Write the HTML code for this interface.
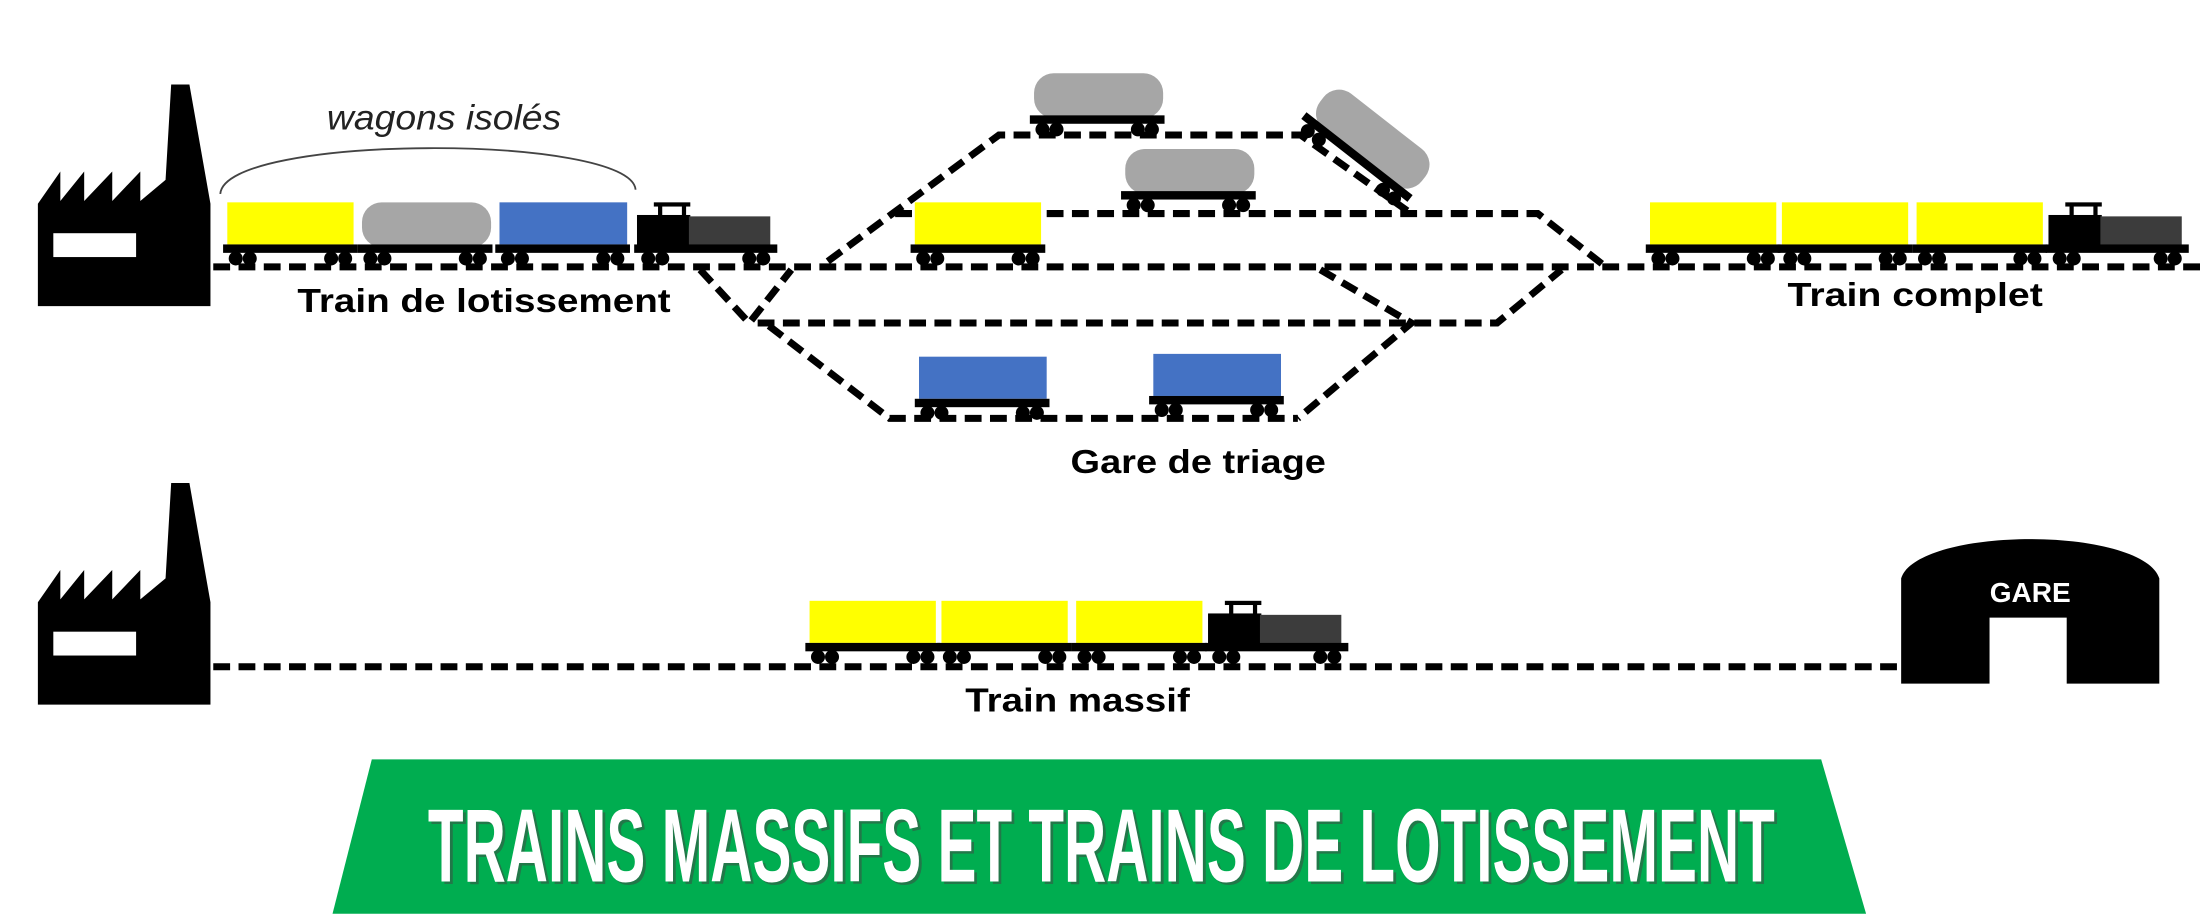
<!DOCTYPE html>
<html><head><meta charset="utf-8"><style>
html,body{margin:0;padding:0;background:#fff;}
svg{display:block;}
</style></head><body>
<svg width="2200" height="914" viewBox="0 0 1568 651" xmlns="http://www.w3.org/2000/svg">
<defs>
<g id="wh">
 <rect x="-3" y="30" width="96" height="6" fill="#000"/>
 <circle cx="6" cy="40" r="5" fill="#000"/><circle cx="16" cy="40" r="5" fill="#000"/>
 <circle cx="74" cy="40" r="5" fill="#000"/><circle cx="84" cy="40" r="5" fill="#000"/>
</g>
<g id="yel"><rect x="0" y="0" width="90" height="30" fill="#ffff00"/><use href="#wh"/></g>
<g id="blu"><rect x="0" y="0" width="91" height="30" fill="#4472c4"/><use href="#wh"/></g>
<g id="gry"><rect x="0" y="0" width="92" height="32" rx="14" fill="#a6a6a6"/><use href="#wh"/></g>
<g id="loco">
 <rect x="12" y="0" width="26" height="3" fill="#000"/>
 <rect x="15" y="2" width="3" height="8" fill="#000"/><rect x="32" y="2" width="3" height="8" fill="#000"/>
 <rect x="0" y="9" width="38" height="23" fill="#000"/>
 <rect x="37" y="10" width="58" height="21" fill="#3c3c3c"/>
 <rect x="-2" y="30" width="102" height="6" fill="#000"/>
 <circle cx="8" cy="40" r="5" fill="#000"/><circle cx="18" cy="40" r="5" fill="#000"/>
 <circle cx="80" cy="40" r="5" fill="#000"/><circle cx="90" cy="40" r="5" fill="#000"/>
</g>
<g id="fact">
 <path d="M27,145 L43,122 L43,143 L60,122 L60,143 L80,122 L80,143 L100,122 L100,143 L118,128 L122,60 L135,60 L150,145 L150,218 L27,218 Z" fill="#000"/>
 <rect x="38" y="166" width="59" height="17" fill="#fff"/>
</g>
</defs>

<g fill="none" stroke="#000" stroke-width="5" stroke-dasharray="12,6">
 <line x1="152" y1="190" x2="1568" y2="190"/>
 <polyline points="590,186 712,96 927,96 1003,150"/>
 <polyline points="638,152 1096,152 1142,188"/>
 <polyline points="499,192 534,230 564,192"/>
 <polyline points="540,230 1067,230 1113,192"/>
 <polyline points="941,192 1006,230 925,298"/>
 <polyline points="548,232 634,298 925,298"/>
 <line x1="152" y1="475" x2="1354" y2="475"/>
</g>

<use href="#fact"/>
<use href="#fact" transform="translate(0,284)"/>

<!-- top train -->
<path d="M157,138 C160,95 450,95 453,135" fill="none" stroke="#444" stroke-width="1.3"/>
<text x="233" y="92" textLength="167" lengthAdjust="spacingAndGlyphs" font-family="Liberation Sans, sans-serif" font-style="italic" font-size="25" fill="#222">wagons isolés</text>
<use href="#yel" transform="translate(162,144)"/>
<use href="#gry" transform="translate(258,144)"/>
<use href="#blu" transform="translate(356,144)"/>
<use href="#loco" transform="translate(454,144)"/>
<text x="212" y="222" textLength="266" lengthAdjust="spacingAndGlyphs" font-family="Liberation Sans, sans-serif" font-weight="bold" font-size="24">Train de lotissement</text>

<!-- yard -->
<use href="#gry" transform="translate(737,52)"/>
<use href="#gry" transform="translate(802,106)"/>
<use href="#gry" transform="translate(952,58) rotate(38)"/>
<use href="#yel" transform="translate(652,144)"/>
<use href="#blu" transform="translate(655,254)"/>
<use href="#blu" transform="translate(822,252)"/>
<text x="763" y="337" textLength="182" lengthAdjust="spacingAndGlyphs" font-family="Liberation Sans, sans-serif" font-weight="bold" font-size="24">Gare de triage</text>

<!-- complete train -->
<use href="#yel" transform="translate(1176,144)"/>
<use href="#yel" transform="translate(1270,144)"/>
<use href="#yel" transform="translate(1366,144)"/>
<use href="#loco" transform="translate(1460,144)"/>
<text x="1274" y="218" textLength="182" lengthAdjust="spacingAndGlyphs" font-family="Liberation Sans, sans-serif" font-weight="bold" font-size="24">Train complet</text>

<!-- massive train -->
<use href="#yel" transform="translate(577,428)"/>
<use href="#yel" transform="translate(671,428)"/>
<use href="#yel" transform="translate(767,428)"/>
<use href="#loco" transform="translate(861,428)"/>
<text x="688" y="507" textLength="160" lengthAdjust="spacingAndGlyphs" font-family="Liberation Sans, sans-serif" font-weight="bold" font-size="24">Train massif</text>

<!-- gare -->
<path d="M1355,487 L1355,412 C1360,395 1400,384 1447,384 C1494,384 1534,395 1539,412 L1539,487 L1473,487 L1473,440 L1418,440 L1418,487 Z" fill="#000"/>
<text x="1447" y="429" font-family="Liberation Sans, sans-serif" font-weight="bold" font-size="20" text-anchor="middle" fill="#fff">GARE</text>

<!-- banner -->
<polygon points="265,541 1298,541 1330,651 237,651" fill="#00ad50"/>
<text x="305" y="628" textLength="960" lengthAdjust="spacingAndGlyphs" font-family="Liberation Sans Narrow, Liberation Sans, sans-serif" font-weight="bold" font-size="74" fill="#444" opacity="0.5" transform="translate(2,2)">TRAINS MASSIFS ET TRAINS DE LOTISSEMENT</text>
<text x="305" y="628" textLength="960" lengthAdjust="spacingAndGlyphs" font-family="Liberation Sans Narrow, Liberation Sans, sans-serif" font-weight="bold" font-size="74" fill="#fff">TRAINS MASSIFS ET TRAINS DE LOTISSEMENT</text>
</svg>
</body></html>
